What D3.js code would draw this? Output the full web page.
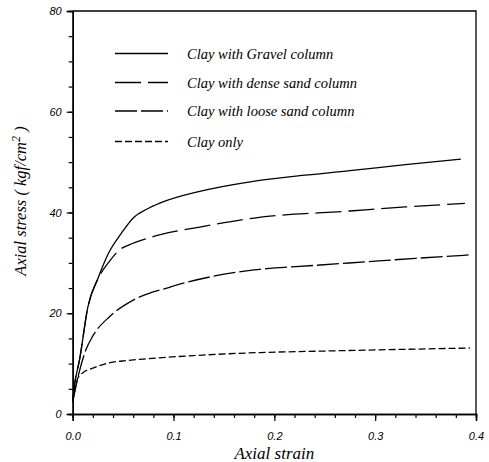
<!DOCTYPE html>
<html>
<head>
<meta charset="utf-8">
<script src="https://cdn.jsdelivr.net/npm/d3@7"></script>
<style>
  body { margin: 0; background: #fff; }
  svg { display: block; }
</style>
</head>
<body>
<div class="chart"></div>
<script>
// values
const gravelStrain = [0, 0.0016, 0.007, 0.015, 0.025, 0.036, 0.048, 0.061, 0.073, 0.087, 0.126, 0.176, 0.225, 0.275, 0.33, 0.385]
const gravelStress = [2.4, 5.4, 11, 21.2, 26.9, 32.1, 35.8, 39.1, 40.6, 41.9, 44.2, 46.1, 47.3, 48.3, 49.5, 50.6]
const denseStrain = [0, 0.0016, 0.007, 0.015, 0.026, 0.036, 0.046, 0.06, 0.073, 0.087, 0.126, 0.18, 0.275, 0.33, 0.389]
const denseStress = [2.4, 5.4, 11, 21.2, 27.2, 30.2, 32.5, 33.9, 34.8, 35.6, 37.1, 38.9, 40.3, 41.1, 41.8]
const looseStrain = [0, 0.005, 0.013, 0.02, 0.037, 0.06, 0.0965, 0.136, 0.18, 0.24, 0.29, 0.34, 0.395]
const looseStress = [2.4, 7.1, 12.7, 15.5, 19.4, 22.6, 25.2, 27.2, 28.6, 29.5, 30.2, 30.9, 31.6]
const clayStrain = [0, 0.005, 0.01, 0.02, 0.037, 0.053, 0.07, 0.12, 0.186, 0.25, 0.32, 0.394]
const clayStress = [2.4, 7.1, 8.2, 9.1, 10.2, 10.6, 10.9, 11.6, 12.2, 12.5, 12.8, 13.1]

const seriesNames = ["Clay with Gravel column", "Clay with dense sand column", "Clay with loose sand column", "Clay only"]
const xTicks = [0, 0.1, 0.2, 0.3, 0.4]
const xTickLabels = ["0.0", "0.1", "0.2", "0.3", "0.4"]
const yTicks = [0, 20, 40, 60, 80]
const yTickLabels = ["0", "20", "40", "60", "80"]

const width = 489, height = 462
const padding = {left: 72.7, right: 13, top: 11, bottom: 48}
const dashes = [null, "26,7", "22,4", "7,3"]
const serif = "'Liberation Serif', 'Times New Roman', serif"

const svg = d3.select(".chart").append("svg").attr("width", width).attr("height", height)

const xScale = d3.scaleLinear().domain([0, 0.4]).range([padding.left, width - padding.right])
const yScale = d3.scaleLinear().domain([0, 80]).range([height - padding.bottom, padding.top])

// frame (top and right)
svg.append("path")
  .attr("d", "M" + xScale(0) + "," + yScale(80) + "H" + xScale(0.4) + "V" + yScale(0))
  .attr("fill", "none").attr("stroke", "#000").attr("stroke-width", 1.3)

function styleAxis(g) {
  g.select(".domain").attr("stroke", "#000").attr("stroke-width", 1.5)
  g.selectAll(".tick line").attr("stroke", "#000").attr("stroke-width", 1.2)
  g.selectAll("text")
    .attr("font-family", "'Liberation Sans', Arial, sans-serif")
    .attr("font-style", "italic")
    .attr("font-size", 11)
    .attr("fill", "#000")
}

// minor ticks
svg.append("g")
  .attr("transform", "translate(0," + yScale(0) + ")")
  .call(d3.axisBottom(xScale).tickValues(d3.range(0, 0.401, 0.02)).tickSize(4).tickFormat(""))
  .call(styleAxis)
svg.append("g")
  .attr("transform", "translate(" + xScale(0) + ",0)")
  .call(d3.axisLeft(yScale).tickValues(d3.range(0, 81, 5)).tickSize(4).tickFormat(""))
  .call(styleAxis)

// major ticks with labels
svg.append("g")
  .attr("transform", "translate(0," + yScale(0) + ")")
  .call(d3.axisBottom(xScale).tickValues(xTicks).tickSize(7).tickPadding(11)
    .tickFormat((d, i) => xTickLabels[i]))
  .call(styleAxis)
svg.append("g")
  .attr("transform", "translate(" + xScale(0) + ",0)")
  .call(d3.axisLeft(yScale).tickValues(yTicks).tickSize(6).tickPadding(5)
    .tickFormat((d, i) => yTickLabels[i]))
  .call(styleAxis)

// curves
const lineFunction = d3.line()
  .x(d => xScale(d[0]))
  .y(d => yScale(d[1]))
  .curve(d3.curveMonotoneX)

const data = [
  d3.zip(gravelStrain, gravelStress),
  d3.zip(denseStrain, denseStress),
  d3.zip(looseStrain, looseStress),
  d3.zip(clayStrain, clayStress)
]

svg.append("g").selectAll("path")
  .data(data)
  .enter()
  .append("path")
  .attr("fill", "none")
  .attr("stroke", "#000")
  .attr("stroke-width", 1.3)
  .attr("stroke-dasharray", (d, i) => dashes[i])
  .attr("d", d => lineFunction(d))

// legend
const legendY = [53.5, 82.5, 111, 141.5]
const legend = svg.append("g").selectAll("g")
  .data(seriesNames)
  .enter()
  .append("g")
  .attr("transform", (d, i) => "translate(115," + legendY[i] + ")")
legend.append("line")
  .attr("x1", 0).attr("x2", 53).attr("y1", 0).attr("y2", 0)
  .attr("stroke", "#000").attr("stroke-width", 1.3)
  .attr("stroke-dasharray", (d, i) => dashes[i])
legend.append("text")
  .attr("x", 72).attr("y", 5)
  .attr("font-family", serif)
  .attr("font-style", "italic")
  .attr("font-size", 14.5)
  .text(d => d)

// axis titles
svg.append("text")
  .attr("x", (xScale(0) + xScale(0.4)) / 2)
  .attr("y", 459)
  .attr("text-anchor", "middle")
  .attr("font-family", serif)
  .attr("font-style", "italic")
  .attr("font-size", 17)
  .text("Axial strain")

const yTitle = svg.append("text")
  .attr("transform", "translate(26,201) rotate(-90)")
  .attr("text-anchor", "middle")
  .attr("font-family", serif)
  .attr("font-style", "italic")
  .attr("font-size", 16.5)
yTitle.append("tspan").text("Axial stress  ( kgf/cm")
yTitle.append("tspan").attr("dy", -6).attr("font-size", 12).text("2")
yTitle.append("tspan").attr("dy", 6).text(" )")
</script>
</body>
</html>
